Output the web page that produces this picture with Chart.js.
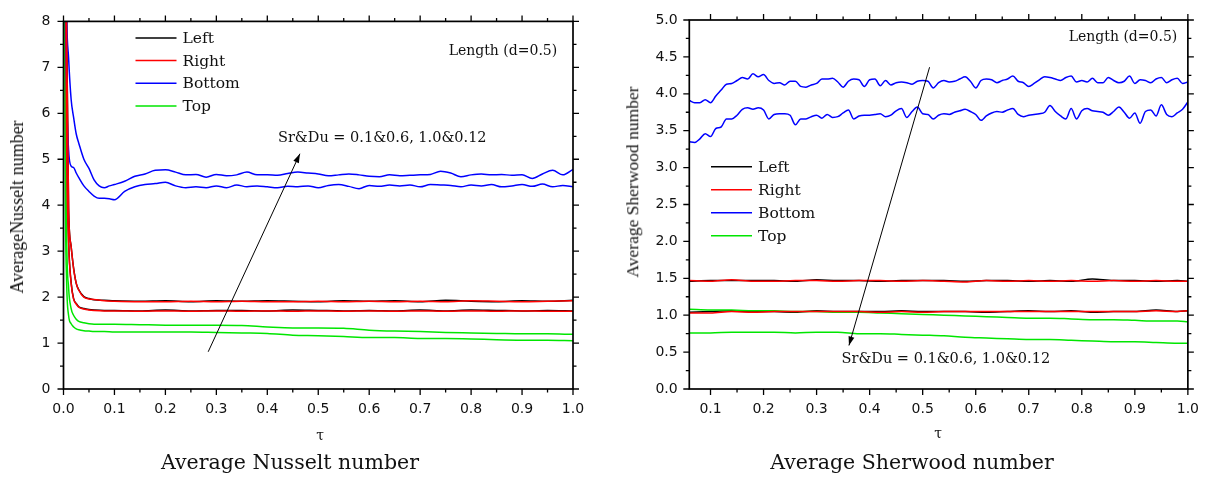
<!DOCTYPE html>
<html>
<head>
<meta charset="utf-8">
<script src="https://cdn.jsdelivr.net/npm/chart.js@4.4.1/dist/chart.umd.min.js"></script>
<style>
  body { margin: 0; background: #fff; }
  #wrap { position: relative; width: 1211px; height: 478px; overflow: hidden; background: #fff; }
  canvas { position: absolute; top: 0; }
  .lbl { position: absolute; white-space: nowrap; line-height: 1; transform: translate(-50%, -50%); color: #111; }
  .ytitle { font-family: "Liberation Serif", serif; }
  .tau { font-family: "DejaVu Serif", serif; font-size: 14px; }
  .caption { font-family: "DejaVu Serif", serif; font-size: 20.5px; }
</style>
</head>
<body>
<div id="wrap">
  <canvas id="nusselt" width="600" height="478" style="left:0"></canvas>
  <canvas id="sherwood" width="591" height="478" style="left:620px"></canvas>
  <div class="lbl ytitle" style="left:17px;top:207px;font-size:18px;transform:translate(-50%,-50%) rotate(-90deg)">AverageNusselt number</div>
  <div class="lbl ytitle" style="left:633px;top:182px;font-size:17.5px;transform:translate(-50%,-50%) rotate(-90deg)">Average Sherwood number</div>
  <div class="lbl tau" style="left:320px;top:435px">τ</div>
  <div class="lbl tau" style="left:938px;top:433px">τ</div>
  <div class="lbl caption" style="left:290px;top:462px">Average Nusselt number</div>
  <div class="lbl caption" style="left:912px;top:462px">Average Sherwood number</div>
</div>
<script>
// ---- shared ----
const seriesNames = ["Left", "Right", "Bottom", "Top"];
const seriesColors = ["#000000", "#ff0000", "#0000ff", "#00e600"];

// ---- Nusselt (left chart) ----
const nuTicksX = [0, 0.1, 0.2, 0.3, 0.4, 0.5, 0.6, 0.7, 0.8, 0.9, 1.0];
const nuTicksY = [0, 1, 2, 3, 4, 5, 6, 7, 8];

const nuTauBlue = [0, 0.003, 0.006, 0.01, 0.015, 0.02, 0.025, 0.03, 0.04, 0.05, 0.06, 0.07, 0.08, 0.09, 0.10,
  0.12, 0.14, 0.16, 0.18, 0.20, 0.22, 0.24, 0.26, 0.28, 0.30, 0.32, 0.34, 0.36, 0.38, 0.40, 0.42, 0.44,
  0.46, 0.48, 0.50, 0.52, 0.54, 0.56, 0.58, 0.60, 0.62, 0.64, 0.66, 0.68, 0.70, 0.72, 0.74, 0.76, 0.78,
  0.80, 0.82, 0.84, 0.86, 0.88, 0.90, 0.92, 0.94, 0.96, 0.98, 1.00];
const nuBottomA = [20, 12, 8.3, 7.2, 6.3, 5.9, 5.55, 5.35, 5.0, 4.8, 4.55, 4.42, 4.38, 4.42, 4.45,
  4.52, 4.63, 4.68, 4.76, 4.77, 4.72, 4.66, 4.67, 4.61, 4.67, 4.64, 4.66, 4.72, 4.66, 4.66, 4.65, 4.69,
  4.72, 4.70, 4.68, 4.64, 4.66, 4.68, 4.66, 4.63, 4.62, 4.66, 4.64, 4.65, 4.66, 4.67, 4.74, 4.70, 4.62,
  4.66, 4.68, 4.66, 4.67, 4.65, 4.66, 4.58, 4.68, 4.76, 4.66, 4.78];
const nuBottomB = [20, 9.5, 6.5, 5.2, 4.85, 4.82, 4.7, 4.6, 4.42, 4.3, 4.2, 4.15, 4.15, 4.14, 4.12,
  4.30, 4.40, 4.45, 4.47, 4.50, 4.42, 4.38, 4.40, 4.38, 4.42, 4.38, 4.44, 4.40, 4.42, 4.40, 4.38, 4.41,
  4.40, 4.42, 4.38, 4.43, 4.45, 4.41, 4.36, 4.43, 4.41, 4.44, 4.42, 4.44, 4.40, 4.45, 4.44, 4.43, 4.40,
  4.44, 4.42, 4.45, 4.40, 4.42, 4.45, 4.41, 4.46, 4.40, 4.43, 4.40];

const nuTauFlat = [0, 0.003, 0.006, 0.01, 0.015, 0.02, 0.025, 0.03, 0.04, 0.05, 0.06, 0.08, 0.10,
  0.15, 0.20, 0.25, 0.30, 0.35, 0.40, 0.45, 0.50, 0.55, 0.60, 0.65, 0.70, 0.75, 0.80, 0.85, 0.90, 0.95, 1.00];
const nuRightA = [30, 15, 8.0, 3.9, 3.1, 2.6, 2.3, 2.15, 2.0, 1.96, 1.95, 1.92, 1.91,
  1.90, 1.90, 1.91, 1.90, 1.91, 1.90, 1.90, 1.91, 1.90, 1.91, 1.90, 1.91, 1.90, 1.92, 1.91, 1.90, 1.91, 1.92];
const nuLeftA = [30, 15, 8.1, 3.95, 3.1, 2.62, 2.3, 2.16, 2.01, 1.97, 1.94, 1.93, 1.92,
  1.91, 1.92, 1.90, 1.92, 1.91, 1.92, 1.91, 1.90, 1.92, 1.91, 1.92, 1.90, 1.93, 1.91, 1.90, 1.92, 1.91, 1.93];
const nuRightB = [30, 12, 5.5, 3.2, 2.3, 1.95, 1.85, 1.78, 1.74, 1.72, 1.71, 1.70, 1.70,
  1.69, 1.70, 1.69, 1.70, 1.69, 1.70, 1.69, 1.70, 1.69, 1.70, 1.69, 1.70, 1.69, 1.70, 1.69, 1.70, 1.69, 1.69];
const nuLeftB = [30, 12, 5.6, 3.25, 2.32, 1.96, 1.86, 1.79, 1.75, 1.73, 1.72, 1.71, 1.71,
  1.70, 1.72, 1.70, 1.71, 1.71, 1.70, 1.72, 1.71, 1.70, 1.71, 1.70, 1.72, 1.70, 1.72, 1.71, 1.70, 1.71, 1.70];
const nuTopA = [30, 8.5, 3.5, 2.2, 1.75, 1.6, 1.52, 1.47, 1.44, 1.42, 1.41, 1.41, 1.41,
  1.40, 1.39, 1.385, 1.385, 1.38, 1.35, 1.33, 1.33, 1.32, 1.28, 1.26, 1.25, 1.23, 1.22, 1.21, 1.20, 1.20, 1.19];
const nuTopB = [30, 6, 2.4, 1.6, 1.42, 1.35, 1.31, 1.29, 1.27, 1.26, 1.25, 1.25, 1.24,
  1.24, 1.24, 1.24, 1.23, 1.22, 1.21, 1.17, 1.16, 1.14, 1.12, 1.12, 1.10, 1.10, 1.09, 1.07, 1.06, 1.06, 1.05];

// ---- Sherwood (right chart) ----
const shTicksX = [0.1, 0.2, 0.3, 0.4, 0.5, 0.6, 0.7, 0.8, 0.9, 1.0];
const shTicksY = [0, 0.5, 1.0, 1.5, 2.0, 2.5, 3.0, 3.5, 4.0, 4.5, 5.0];

const shTauBlue = [0.06, 0.07, 0.08, 0.09, 0.10, 0.11, 0.12, 0.13, 0.14, 0.15,
  0.16, 0.17, 0.18, 0.19, 0.20, 0.21, 0.22, 0.23, 0.24, 0.25,
  0.26, 0.27, 0.28, 0.29, 0.30, 0.31, 0.32, 0.33, 0.34, 0.35,
  0.36, 0.37, 0.38, 0.39, 0.40, 0.41, 0.42, 0.43, 0.44, 0.45,
  0.46, 0.47, 0.48, 0.49, 0.50, 0.51, 0.52, 0.53, 0.54, 0.55,
  0.56, 0.57, 0.58, 0.59, 0.60, 0.61, 0.62, 0.63, 0.64, 0.65,
  0.66, 0.67, 0.68, 0.69, 0.70, 0.71, 0.72, 0.73, 0.74, 0.75,
  0.76, 0.77, 0.78, 0.79, 0.80, 0.81, 0.82, 0.83, 0.84, 0.85,
  0.86, 0.87, 0.88, 0.89, 0.90, 0.91, 0.92, 0.93, 0.94, 0.95,
  0.96, 0.97, 0.98, 0.99, 1.00];
const shBottomA = [3.91, 3.88, 3.88, 3.92, 3.88, 3.97, 4.05, 4.13, 4.14, 4.18,
  4.22, 4.20, 4.27, 4.23, 4.26, 4.18, 4.14, 4.15, 4.12, 4.17,
  4.17, 4.10, 4.09, 4.12, 4.14, 4.20, 4.20, 4.21, 4.16, 4.09,
  4.17, 4.20, 4.19, 4.10, 4.19, 4.20, 4.11, 4.18, 4.12, 4.15,
  4.16, 4.15, 4.13, 4.17, 4.18, 4.17, 4.08, 4.15, 4.18, 4.16,
  4.17, 4.20, 4.23, 4.17, 4.08, 4.18, 4.20, 4.19, 4.15, 4.18,
  4.20, 4.24, 4.17, 4.15, 4.10, 4.14, 4.19, 4.23, 4.22, 4.20,
  4.18, 4.22, 4.24, 4.16, 4.18, 4.16, 4.21, 4.15, 4.15, 4.22,
  4.18, 4.15, 4.17, 4.24, 4.14, 4.19, 4.18, 4.15, 4.20, 4.22,
  4.15, 4.19, 4.21, 4.14, 4.16];
const shBottomB = [3.35, 3.34, 3.39, 3.46, 3.42, 3.53, 3.55, 3.66, 3.66, 3.71,
  3.79, 3.81, 3.79, 3.81, 3.78, 3.66, 3.72, 3.73, 3.73, 3.71,
  3.58, 3.66, 3.66, 3.69, 3.71, 3.67, 3.72, 3.68, 3.69, 3.74,
  3.78, 3.66, 3.70, 3.71, 3.71, 3.72, 3.73, 3.69, 3.71, 3.77,
  3.80, 3.68, 3.76, 3.82, 3.73, 3.72, 3.66, 3.71, 3.73, 3.72,
  3.75, 3.77, 3.79, 3.76, 3.72, 3.64, 3.70, 3.74, 3.76, 3.75,
  3.78, 3.80, 3.72, 3.69, 3.71, 3.72, 3.73, 3.75, 3.84, 3.76,
  3.70, 3.66, 3.80, 3.66, 3.77, 3.80, 3.77, 3.76, 3.75, 3.71,
  3.76, 3.82, 3.75, 3.67, 3.74, 3.60, 3.76, 3.78, 3.70, 3.85,
  3.72, 3.69, 3.74, 3.79, 3.89];

const shTauFlat = [0.06, 0.10, 0.14, 0.18, 0.22, 0.26, 0.30, 0.34, 0.38, 0.42, 0.46, 0.50, 0.54,
  0.58, 0.62, 0.66, 0.70, 0.74, 0.78, 0.82, 0.86, 0.90, 0.94, 0.98, 1.00];
const shRightA = [1.47, 1.46, 1.48, 1.46, 1.46, 1.47, 1.47, 1.46, 1.47, 1.47, 1.46, 1.47, 1.46,
  1.45, 1.47, 1.46, 1.47, 1.46, 1.47, 1.46, 1.47, 1.46, 1.47, 1.46, 1.46];
const shLeftA = [1.46, 1.47, 1.47, 1.47, 1.47, 1.46, 1.48, 1.47, 1.47, 1.46, 1.47, 1.47, 1.47,
  1.46, 1.47, 1.47, 1.46, 1.47, 1.46, 1.49, 1.47, 1.47, 1.46, 1.47, 1.46];
const shRightB = [1.03, 1.03, 1.05, 1.04, 1.05, 1.05, 1.05, 1.05, 1.05, 1.04, 1.05, 1.04, 1.05,
  1.05, 1.05, 1.05, 1.05, 1.05, 1.05, 1.05, 1.05, 1.05, 1.06, 1.05, 1.06];
const shLeftB = [1.04, 1.05, 1.06, 1.05, 1.05, 1.04, 1.06, 1.05, 1.05, 1.05, 1.06, 1.05, 1.05,
  1.05, 1.04, 1.05, 1.06, 1.05, 1.06, 1.04, 1.05, 1.05, 1.07, 1.05, 1.06];
const shTopA = [1.08, 1.07, 1.07, 1.06, 1.06, 1.05, 1.05, 1.04, 1.04, 1.03, 1.02, 1.01, 1.00,
  0.99, 0.98, 0.97, 0.96, 0.96, 0.95, 0.94, 0.94, 0.93, 0.92, 0.92, 0.91];
const shTopB = [0.76, 0.76, 0.77, 0.77, 0.77, 0.76, 0.77, 0.77, 0.75, 0.75, 0.74, 0.73, 0.72,
  0.70, 0.69, 0.68, 0.67, 0.67, 0.66, 0.65, 0.64, 0.64, 0.63, 0.62, 0.62];

const annotationText = "Sr&Du = 0.1&0.6, 1.0&0.12";
const lengthText = "Length (d=0.5)";

// ---- helpers ----
function line(xs, ys, colorIdx, order) {
  return {
    label: seriesNames[colorIdx],
    data: xs.map((x, i) => ({ x: x, y: ys[i] })),
    borderColor: seriesColors[colorIdx],
    borderWidth: 1.5,
    pointRadius: 0,
    fill: false,
    cubicInterpolationMode: "monotone",
    order: order
  };
}

function tickMarks(scale) {
  let vals = scale.ticks.map(t => t.value);
  let marks = vals.map(v => [v, 6]);
  for (let i = 0; i < vals.length - 1; i++) marks.push([(vals[i] + vals[i + 1]) / 2, 3.5]);
  return marks;
}

function arrow(ctx, x1, y1, x2, y2) {
  ctx.beginPath(); ctx.moveTo(x1, y1); ctx.lineTo(x2, y2); ctx.stroke();
  let ang = Math.atan2(y2 - y1, x2 - x1), len = 9, hw = 3;
  let bx = x2 - len * Math.cos(ang), by = y2 - len * Math.sin(ang);
  ctx.beginPath();
  ctx.moveTo(x2, y2);
  ctx.lineTo(bx + hw * Math.sin(ang), by - hw * Math.cos(ang));
  ctx.lineTo(bx - hw * Math.sin(ang), by + hw * Math.cos(ang));
  ctx.closePath(); ctx.fill();
}

// frame, mirrored ticks, legend and annotations
const decor = {
  id: "decor",
  afterDatasetsDraw(chart, args, o) {
    let ctx = chart.ctx, a = chart.chartArea, xs = chart.scales.x, ys = chart.scales.y;
    ctx.save();
    ctx.strokeStyle = "#000"; ctx.fillStyle = "#000";
    ctx.lineWidth = 1.7;
    ctx.strokeRect(a.left, a.top, a.right - a.left, a.bottom - a.top);
    ctx.lineWidth = 1.3;
    ctx.beginPath();
    tickMarks(xs).forEach(([v, len]) => {
      let px = xs.getPixelForValue(v);
      ctx.moveTo(px, a.bottom); ctx.lineTo(px, a.bottom + len);
      ctx.moveTo(px, a.top); ctx.lineTo(px, a.top - len);
    });
    tickMarks(ys).forEach(([v, len]) => {
      let py = ys.getPixelForValue(v);
      ctx.moveTo(a.left, py); ctx.lineTo(a.left - len, py);
      ctx.moveTo(a.right, py); ctx.lineTo(a.right + len, py);
    });
    ctx.stroke();

    // legend
    ctx.font = '15.5px "DejaVu Serif"';
    ctx.textBaseline = "middle";
    ctx.textAlign = "left";
    seriesNames.forEach((name, i) => {
      let y = a.top + o.legend.top + i * o.legend.dy;
      ctx.strokeStyle = seriesColors[i]; ctx.lineWidth = 1.5;
      ctx.beginPath();
      ctx.moveTo(a.left + o.legend.x1, y); ctx.lineTo(a.left + o.legend.x2, y);
      ctx.stroke();
      ctx.fillStyle = "#111";
      ctx.fillText(name, a.left + o.legend.x2 + 6, y + 1);
    });

    // arrow + labels
    ctx.strokeStyle = "#000"; ctx.fillStyle = "#000"; ctx.lineWidth = 1;
    let ar = o.arrow;
    arrow(ctx, xs.getPixelForValue(ar[0]), ys.getPixelForValue(ar[1]),
      xs.getPixelForValue(ar[2]), ys.getPixelForValue(ar[3]));
    ctx.fillStyle = "#111";
    ctx.font = '14.5px "DejaVu Serif"';
    ctx.textAlign = "left";
    ctx.fillText(annotationText, xs.getPixelForValue(o.note[0]), ys.getPixelForValue(o.note[1]));
    ctx.font = '14px "DejaVu Serif"';
    ctx.textAlign = "right";
    ctx.fillText(lengthText, xs.getPixelForValue(o.length[0]), ys.getPixelForValue(o.length[1]));
    ctx.restore();
  }
};

function makeChart(id, datasets, cfg) {
  return new Chart(document.getElementById(id), {
    type: "line",
    data: { datasets: datasets },
    options: {
      responsive: false,
      animation: false,
      events: [],
      layout: { padding: cfg.padding },
      plugins: { legend: { display: false }, tooltip: { enabled: false }, decor: cfg.decor },
      scales: {
        x: {
          type: "linear", min: cfg.xMin, max: cfg.xMax,
          afterBuildTicks: s => { s.ticks = cfg.xTicks.map(v => ({ value: v })); },
          afterFit: s => { s.height = 89; },
          grid: { display: false, drawTicks: false },
          border: { display: false },
          ticks: { font: { family: "DejaVu Sans", size: 14 }, color: "#111", padding: 12,
            maxRotation: 0, autoSkip: false, callback: v => v.toFixed(1) }
        },
        y: {
          type: "linear", min: cfg.yMin, max: cfg.yMax,
          afterBuildTicks: s => { s.ticks = cfg.yTicks.map(v => ({ value: v })); },
          afterFit: s => { s.width = cfg.yWidth; },
          grid: { display: false, drawTicks: false },
          border: { display: false },
          ticks: { font: { family: "DejaVu Sans", size: 14 }, color: "#111", padding: cfg.yPad,
            autoSkip: false, callback: v => v.toFixed(cfg.yDigits) }
        }
      }
    },
    plugins: [decor]
  });
}

makeChart("nusselt", [
  line(nuTauFlat, nuRightA, 1, 0), line(nuTauFlat, nuRightB, 1, 0),
  line(nuTauFlat, nuLeftA, 0, 3), line(nuTauFlat, nuLeftB, 0, 3),
  line(nuTauBlue, nuBottomA, 2, 1), line(nuTauBlue, nuBottomB, 2, 1),
  line(nuTauFlat, nuTopA, 3, 2), line(nuTauFlat, nuTopB, 3, 2)
], {
  padding: { top: 15.7, right: 27, bottom: 0, left: 0 },
  xMin: 0, xMax: 1, yMin: 0, yMax: 8,
  xTicks: nuTicksX, yTicks: nuTicksY, yWidth: 63.5, yPad: 13, yDigits: 0,
  decor: {
    legend: { x1: 72, x2: 113, top: 16.5, dy: 22.7 },
    arrow: [0.284, 0.81, 0.464, 5.12],
    note: [0.421, 5.45],
    length: [0.969, 7.35]
  }
});

makeChart("sherwood", [
  line(shTauFlat, shRightA, 1, 0), line(shTauFlat, shRightB, 1, 0),
  line(shTauFlat, shLeftA, 0, 3), line(shTauFlat, shLeftB, 0, 3),
  line(shTauBlue, shBottomA, 2, 1), line(shTauBlue, shBottomB, 2, 1),
  line(shTauFlat, shTopA, 3, 2), line(shTauFlat, shTopB, 3, 2)
], {
  padding: { top: 17.3, right: 14.3, bottom: 0, left: 0 },
  xMin: 0.06, xMax: 1, yMin: 0, yMax: 5,
  xTicks: shTicksX, yTicks: shTicksY, yWidth: 69.3, yPad: 11.6, yDigits: 1,
  decor: {
    legend: { x1: 21.7, x2: 62.7, top: 146.7, dy: 23 },
    arrow: [0.513, 4.36, 0.361, 0.59],
    note: [0.347, 0.40],
    length: [0.980, 4.76]
  }
});
</script>
</body>
</html>
